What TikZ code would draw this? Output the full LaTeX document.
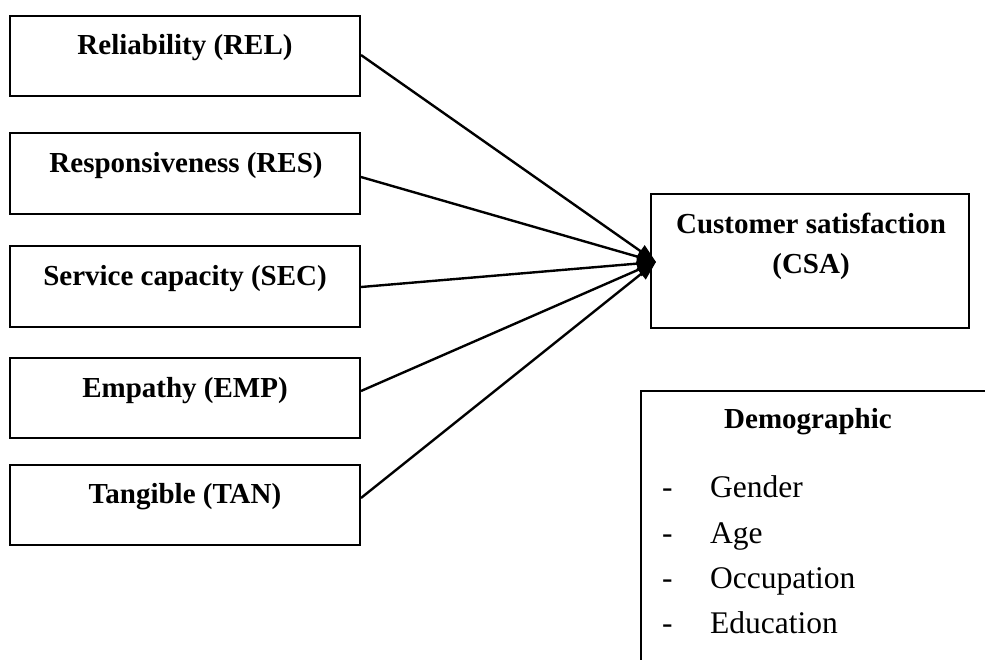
\documentclass[tikz,border=0pt]{standalone}
\usepackage{fontspec}
\setmainfont{Liberation Serif}
\usetikzlibrary{arrows.meta}
\begin{document}
\begin{tikzpicture}[x=1pt,y=-1pt,
  box/.style={draw,line width=2pt,rectangle,inner sep=0pt},
  btxt/.style={font=\fontsize{29}{34}\selectfont\bfseries,inner sep=0pt,anchor=base},
  rtxt/.style={font=\fontsize{31.5}{37}\selectfont,inner sep=0pt,anchor=base west},
  link/.style={line width=2.4pt,-{Triangle[length=19pt,width=14pt]}}]
\useasboundingbox (0,0) rectangle (985,659);
\clip (0,0) rectangle (985,659);
% factor boxes
\node[box,minimum width=350pt,minimum height=80pt] (rel) at (185,56) {};
\node[box,minimum width=350pt,minimum height=81pt] (res) at (185,173.5) {};
\node[box,minimum width=350pt,minimum height=81pt] (sec) at (185,286.5) {};
\node[box,minimum width=350pt,minimum height=80pt] (emp) at (185,398) {};
\node[box,minimum width=350pt,minimum height=80pt] (tan) at (185,505) {};
\node[btxt] (relt) at (185,54) {Reliability (REL)};
\node[btxt] (rest) at (186,172) {Responsiveness (RES)};
\node[btxt] (sect) at (185,285) {Service capacity (SEC)};
\node[btxt] (empt) at (185,397) {Empathy (EMP)};
\node[btxt] (tant) at (185,503) {Tangible (TAN)};
% outcome box
\node[box,minimum width=318pt,minimum height=134pt] (csa) at (810,261) {};
\node[btxt] (csat1) at (811,233) {Customer satisfaction};
\node[btxt] (csat2) at (811,273) {(CSA)};
\coordinate (tip) at (656,262);
% connectors
\draw[link] (rel.east |- 0,55) -- (tip);
\draw[link] (res.east |- 0,177) -- (tip);
\draw[link] (sec.east |- 0,287) -- (tip);
\draw[link] (emp.east |- 0,391) -- (tip);
\draw[link] (tan.east |- 0,498) -- (tip);
% demographic box (extends past the frame)
\coordinate (dtl) at (641,391);
\coordinate (dtr) at (1000,391);
\coordinate (dbl) at (641,700);
\draw[line width=2pt] (dtr) -- (dtl) -- (dbl);
\node[btxt] (demt) at (808,428) {Demographic};
\foreach \i/\t/\y in {1/Gender/497,2/Age/543,3/Occupation/588,4/Education/633}{
  \node[rtxt] (dash\i) at (662,\y) {-};
  \node[rtxt] (item\i) at (710,\y) {\t};
}
\end{tikzpicture}
\end{document}
